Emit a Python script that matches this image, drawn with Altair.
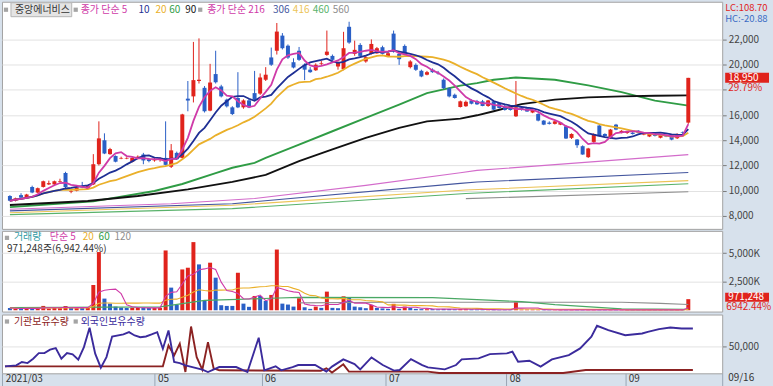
import altair as alt
import pandas as pd

# ---------------- data ----------------
opens = [9580, 9200, 9650, 9400, 10300, 9850, 10300, 10500, 10500, 10700,
         11400, 9900, 10000, 10370, 10150, 10500, 12100, 14000, 12900, 12750,
         12550, 12550, 12300, 12550, 12870, 12500, 12400, 12500, 12600, 11900,
         13000, 12600, 17300, 17480, 18700, 18160, 16350, 19250, 18270, 17220,
         16610, 17350, 16610, 17160, 17740, 17700, 18800, 20570, 21100, 22300,
         21500, 20190, 21100, 19990, 19600, 19550, 20050, 20770, 20690, 19850,
         19650, 23000, 20850, 21560, 20250, 20850, 20900, 21380, 20690, 22460,
         20850, 21480, 19800, 19980, 19510, 19200, 19600, 19350, 18800, 18130,
         17610, 16640, 16700, 17160, 17100, 17090, 16720, 17090, 16950, 16700,
         16600, 15900, 16600, 16530, 16200, 16080, 15560, 15400, 15300, 15240,
         15110, 14190, 14060, 13530, 12660, 13870, 15170, 14500, 14190, 15240,
         14580, 14580, 14600, 14760, 14450, 14300, 14500, 14200, 14350, 14400,
         14160, 14650, 15400]
highs = [9650, 9450, 9800, 9750, 10400, 10250, 10800, 10800, 10800, 10950,
         11500, 10100, 10300, 10700, 10450, 12900, 15500, 14550, 13400, 12800,
         12700, 12650, 12650, 12800, 13000, 12600, 12600, 12650, 15500, 13700,
         13100, 16100, 18700, 21800, 22080, 18300, 20060, 21100, 18400, 17300,
         16700, 19400, 17250, 17300, 19500, 19300, 19800, 21350, 23300, 22500,
         21600, 20500, 21400, 20100, 19800, 20100, 20300, 22700, 20800, 20250,
         22600, 23400, 21900, 21700, 20700, 22000, 21400, 21500, 21000, 22700,
         20950, 21600, 20350, 20100, 19600, 19500, 19700, 19500, 18900, 18200,
         17700, 17150, 17150, 17250, 17200, 17200, 17200, 17150, 17000, 16900,
         16650, 18700, 16700, 16600, 16450, 16150, 15600, 15500, 15550, 15450,
         15200, 14550, 14100, 13600, 13400, 14550, 15200, 14550, 14900, 15300,
         14800, 14750, 14700, 14800, 14600, 14550, 14550, 14450, 14400, 14450,
         14550, 14700, 18950]
lows = [9150, 9150, 9400, 9350, 9800, 9800, 10250, 10450, 10450, 10650,
        10200, 9800, 9950, 10200, 10100, 10450, 12000, 12900, 12850, 12250,
        12500, 12500, 12250, 12500, 12100, 12250, 12300, 12300, 12000, 11800,
        12450, 12550, 16300, 17000, 18500, 16200, 16300, 18500, 17400, 16600,
        16000, 16550, 16500, 16550, 17150, 17600, 18700, 19900, 20800, 21200,
        20450, 19700, 20300, 18770, 19350, 19500, 19950, 20700, 20300, 19600,
        19550, 21650, 20700, 20600, 20150, 20800, 20850, 20800, 20600, 20950,
        19980, 20750, 19700, 19500, 19000, 19150, 19350, 19200, 18050, 17400,
        17300, 16600, 16650, 16850, 16800, 16700, 16650, 16400, 16500, 16350,
        16350, 15850, 16350, 16250, 16150, 15500, 15200, 15250, 15250, 15200,
        14100, 14100, 13400, 12850, 12600, 13800, 14300, 14300, 14100, 14800,
        14550, 14500, 14450, 14550, 14400, 14250, 14300, 14150, 14250, 14000,
        14100, 14500, 15300]
closes = [9200, 9400, 9450, 9700, 9850, 10200, 10750, 10600, 10750, 10750,
          10300, 9950, 10250, 10250, 10400, 12100, 14150, 12950, 13300, 12300,
          12600, 12600, 12600, 12700, 12400, 12350, 12450, 12550, 12050, 13200,
          12500, 16050, 17150, 18770, 18800, 16300, 18580, 18600, 17480, 16690,
          16080, 16610, 17160, 16610, 17220, 18980, 19200, 19990, 22620, 21300,
          20560, 19770, 20380, 19600, 19400, 19990, 20100, 21030, 20380, 20170,
          21300, 21750, 21170, 20690, 20590, 21640, 21300, 20850, 20900, 21030,
          20430, 20850, 20250, 19590, 19060, 19400, 19400, 19300, 18130, 17480,
          17350, 17090, 17050, 16900, 16850, 16720, 17160, 16430, 16560, 16400,
          16400, 16610, 16400, 16280, 16400, 15560, 15240, 15300, 15500, 15400,
          14140, 14500, 13610, 12870, 13350, 14500, 14320, 14320, 14850, 14850,
          14750, 14700, 14500, 14600, 14500, 14500, 14350, 14400, 14300, 14050,
          14500, 14600, 18950]

# volume in thousand shares, and whether the bar is red (1) or blue (0)
volumes_k = [200, 150, 120, 180, 200, 180, 380, 150, 200, 180,
             380, 200, 180, 220, 200, 2210, 5090, 1020, 580, 320,
             235, 200, 220, 220, 220, 200, 200, 220, 5230, 1980,
             470, 3570, 3720, 5960, 4010, 820, 4160, 2850, 440, 380,
             380, 3280, 580, 300, 1250, 1250, 820, 1340, 5310, 580,
             500, 320, 1050, 260, 120, 320, 210, 1630, 210, 180,
             1220, 1130, 320, 260, 180, 470, 210, 160, 120, 560,
             120, 320, 210, 120, 100, 90, 100, 80, 120, 110,
             90, 100, 90, 80, 70, 40, 40, 40, 40, 40,
             40, 760, 60, 60, 60, 50, 30, 30, 30, 30,
             30, 30, 30, 30, 30, 30, 30, 30, 30, 30,
             30, 30, 30, 30, 30, 30, 30, 30, 30, 30,
             30, 30, 971.248]
volume_up = [0, 1, 0, 1, 0, 1, 1, 1, 1, 1,
             1, 0, 1, 0, 1, 1, 1, 0, 0, 0,
             0, 0, 1, 1, 0, 0, 1, 1, 1, 0,
             0, 1, 1, 1, 0, 0, 1, 0, 0, 0,
             0, 1, 0, 0, 1, 0, 0, 1, 1, 0,
             0, 0, 1, 0, 0, 1, 0, 1, 0, 0,
             1, 0, 0, 0, 0, 1, 0, 0, 0, 1,
             0, 1, 0, 0, 0, 1, 0, 0, 0, 0,
             0, 1, 1, 0, 0, 0, 1, 0, 0, 0,
             0, 1, 1, 1, 1, 1, 0, 0, 1, 1,
             0, 1, 0, 0, 1, 1, 0, 0, 1, 0,
             1, 1, 0, 0, 1, 1, 0, 1, 0, 0,
             1, 0, 1]

# longer moving averages (need history before the window) read at sample days
ma60_days = [0, 15, 26, 31, 37, 40, 44, 46, 52, 58, 64, 70, 75, 81, 84, 87, 91, 98, 104, 110, 116, 122]
ma60_vals = [8700, 9150, 9975, 10530, 11400, 11820, 12210, 12600, 13660, 14715, 15770, 16830,
             17740, 18330, 18530, 18800, 18980, 18800, 18350, 17820, 17140, 16750]
ma90_days = [0, 14, 23, 32, 40, 46, 52, 58, 64, 70, 75, 81, 84, 87, 92, 98, 104, 110, 116, 122]
ma90_vals = [8870, 9185, 9580, 10110, 10700, 11250, 12345, 13270, 14190, 14980, 15500, 15720,
             15980, 16300, 16870, 17220, 17400, 17480, 17530, 17560]
ma216_days = [0, 29, 44, 64, 81, 84, 122]
ma216_vals = [8530, 8970, 9380, 10420, 11420, 11610, 12860]
ma306_days = [0, 40, 81, 84, 122]
ma306_vals = [8400, 8970, 10580, 10690, 11450]
ma416_days = [0, 40, 82, 122]
ma416_vals = [8250, 8845, 10050, 10800]
ma460_days = [0, 40, 82, 122]
ma460_vals = [8100, 8580, 9780, 10550]
ma560_days = [82, 122]
ma560_vals = [9370, 9920]

vol_ma60_days = [0, 27, 35, 41, 47, 52, 76, 88, 92, 98, 110, 122]
vol_ma60_vals = [230, 300, 870, 960, 1050, 1120, 1100, 845, 760, 500, 120, 80]
vol_ma120_days = [52, 68, 92, 110, 117, 122]
vol_ma120_vals = [650, 700, 700, 700, 600, 500]

foreign_days = [0, 2, 3, 4, 5, 6, 7, 8, 9, 10, 11, 12, 13, 14, 15, 16, 17, 18, 19, 21,
                22, 23, 24, 25, 26, 27, 28, 29, 30, 31, 32, 35, 36, 38, 41, 43, 45, 46, 48, 49,
                51, 52, 55, 57, 58, 60, 62, 63, 65, 67, 69, 70, 72, 74, 75, 78, 80, 81, 84, 86,
                89, 90, 91, 93, 95, 97, 100, 102, 104, 105, 107, 110, 113, 114, 116, 118, 120, 122]
foreign_vals = [12800, 14600, 20700, 18800, 26900, 37100, 37100, 43400, 46300, 26900,
                37100, 34800, 25100, 48100, 83600, 36100, 10400, 29800, 67700, 71400,
                75600, 69500, 66400, 67700, 71400, 75600, 45200, 78700, 20700, 18800,
                14600, 6800, 2400, 11500, 11500, 2400, 65300, 5500, 12800, 5500,
                11500, 15200, 15200, 3100, 12300, 25600, 17000, 7300, 29300, 15200,
                4900, 6000, 26200, 15200, 11000, 7300, 15200, 25600, 27500, 35300,
                36600, 39700, 21400, 23200, 12300, 25600, 33500, 45800, 67200, 87300,
                79200, 70100, 73200, 76300, 81100, 84200, 82400, 82400]
inst_days = [0, 28, 29, 30, 31, 32, 33, 34, 35, 36, 37, 38, 56, 57, 58, 60, 61, 63, 75, 77, 99, 103, 122]
inst_vals = [12800, 12800, 51200, 32900, 54400, 2400, 86000, 29800, 6800, 57300,
             9200, 5500, 4600, 9200, 1300, 16500, 3100, 3100, 3100, 500, 500, 6000, 6000]

month_ticks = [-0.5, 26.5, 45.5, 67.5, 88.9, 110, 127.2]
month_labels = ["2021/03", "05", "06", "07", "08", "09", ""]
price_ticks = [8000, 10000, 12000, 14000, 16000, 18000, 20000, 22000]
price_hidden_label = 18000   # covered by the last-price tag in the reference
volume_ticks = [2500, 5000]
holding_ticks = [50000]

stock_name = "중앙에너비스"
last_date = "09/16"
price_change = "29.79%"
volume_change = "6942.44%"
volume_text = "971,248주(6,942.44%)"
lc_text = "LC:108.70"
hc_text = "HC:-20.88"

# ---------------- styles ----------------
FONT = "Noto Sans CJK KR"
RED = "#e0231c"
BLUE = "#2a5fc6"
C_MA5 = "#cf3aa8"
C_MA10 = "#1e2f94"
C_MA20 = "#eab02a"
C_MA60 = "#2f9c45"
C_MA90 = "#111111"
C_216 = "#d36ccb"
C_306 = "#44569e"
C_416 = "#ecc457"
C_460 = "#58b26a"
C_560 = "#8e8e8e"
C_VMA60 = "#4aa864"
C_VMA120 = "#8f8f8f"
C_INST = "#8b2222"
C_FOR = "#3b2b9c"
C_VOLT = "#2f9aa4"
LEG = 10

W = 723
H_P, H_V, H_H = 228, 81, 59

xs = alt.Scale(domain=[-0.53, 127.2], nice=False, zero=False)
X = alt.X("i:Q", scale=xs, axis=None)

expr_x = " : ".join(f"datum.value == {v} ? '{l}'" for v, l in zip(month_ticks, month_labels)) + " : ''"
x_bottom = alt.Axis(values=month_ticks, labelExpr=expr_x, tickSize=18, tickColor="#9aa6b4",
                    labelAlign="left", labelBaseline="middle", labelPadding=-13, labelOffset=3,
                    labelColor="#333333", labelFontSize=10, labelFont=FONT, domain=False,
                    grid=False, minExtent=18, maxExtent=18, title=None, labelFlush=False,
                    labelOverlap=False, labelBound=False)
XB = alt.X("i:Q", scale=xs, axis=x_bottom)

def right_axis(values, expr):
    return alt.Axis(orient="right", values=values, title=None, grid=True, gridColor="#e2e2e2",
                    tickSize=4, tickColor="#7a7a7a", labelPadding=2, minExtent=50, maxExtent=50,
                    domain=False, labelColor="#444444", labelFontSize=10, labelFont=FONT,
                    labelExpr=expr)

p_scale = alt.Scale(domain=[6973, 24985], nice=False, zero=False)
p_axis = right_axis(price_ticks,
                    f"datum.value == {price_hidden_label} ? '' : format(datum.value, ',')")
def YP(f):
    return alt.Y(f, scale=p_scale, axis=p_axis)

v_scale = alt.Scale(domain=[-113, 6943], nice=False, zero=False)
v_axis = right_axis(volume_ticks, "format(datum.value, ',') + 'K'")
def YV(f):
    return alt.Y(f, scale=v_scale, axis=v_axis)

h_scale = alt.Scale(domain=[0, 108000], nice=False, zero=False)
h_axis = right_axis(holding_ticks, "format(datum.value, ',')")
def YH(f):
    return alt.Y(f, scale=h_scale, axis=h_axis)

_one = pd.DataFrame({"k": [0]})
def label(text, x, y, color="#333333", size=LEG, align="left"):
    return alt.Chart(_one).mark_text(text=text, align=align, baseline="middle", fontSize=size,
                                     color=color, font=FONT).encode(x=alt.value(x), y=alt.value(y))

def icon(x, y):
    return alt.Chart(_one).mark_point(shape="square", size=18, filled=True, color="#a4a4a4",
                                      opacity=1).encode(x=alt.value(x), y=alt.value(y))

def line(days, vals, color, width, yfn, xenc=X):
    df = pd.DataFrame({"i": days, "v": vals})
    return alt.Chart(df).mark_line(strokeWidth=width, color=color).encode(x=xenc, y=yfn("v:Q"))

n = len(closes)
candles = pd.DataFrame({"i": list(range(n)), "open": opens, "high": highs,
                        "low": lows, "close": closes})
vol_df = pd.DataFrame({"i": list(range(n)), "vol": volumes_k, "up": volume_up})

up_color = alt.condition("datum.close >= datum.open", alt.value(RED), alt.value(BLUE))
srt = [alt.SortField("i", order="ascending")]

def rolling(col, k, color, width, yfn, data):
    name = f"{col}_ma{k}"
    return alt.Chart(data).transform_window(
        **{name: f"mean({col})"}, frame=[-(k - 1), 0], sort=srt
    ).mark_line(strokeWidth=width, color=color).encode(x=X, y=yfn(f"{name}:Q"))

# ---------------- price panel ----------------
wicks = alt.Chart(candles).mark_rule(strokeWidth=1).encode(x=X, y=YP("low:Q"), y2="high:Q", color=up_color)
bodies = alt.Chart(candles).mark_bar(size=4).encode(x=X, y=YP("open:Q"), y2="close:Q", color=up_color)

last_df = pd.DataFrame({"v": [closes[-1]]})
tag_box = alt.Chart(last_df).mark_tick(orient="horizontal", size=44, thickness=10, color=RED,
                                       opacity=1).encode(x=alt.value(748), y=YP("v:Q"))
tag_txt = alt.Chart(last_df).mark_text(align="left", baseline="middle", color="white", fontSize=10,
                                       font=FONT).encode(x=alt.value(729), y=YP("v:Q"),
                                                         text=alt.Text("v:Q", format=","))
tag_pct = alt.Chart(last_df).mark_text(align="left", baseline="middle", color=RED, fontSize=10,
                                       font=FONT, dy=10, text=price_change).encode(
    x=alt.value(729), y=YP("v:Q"))

name_box = alt.Chart(_one).mark_rect(fill="#e4e4e4", stroke="#b5b5b5", strokeWidth=1).encode(
    x=alt.value(9), x2=alt.value(70), y=alt.value(1), y2=alt.value(15))

price_panel = alt.layer(
    line(ma560_days, ma560_vals, C_560, 1.1, YP),
    line(ma460_days, ma460_vals, C_460, 1.1, YP),
    line(ma416_days, ma416_vals, C_416, 1.1, YP),
    line(ma306_days, ma306_vals, C_306, 1.1, YP),
    line(ma216_days, ma216_vals, C_216, 1.1, YP),
    line(ma60_days, ma60_vals, C_MA60, 1.9, YP),
    line(ma90_days, ma90_vals, C_MA90, 1.9, YP),
    wicks, bodies,
    rolling("close", 20, C_MA20, 1.8, YP, candles),
    rolling("close", 10, C_MA10, 1.8, YP, candles),
    rolling("close", 5, C_MA5, 1.8, YP, candles),
    name_box, icon(4, 8), label(stock_name, 13, 8, "#333333"),
    icon(74, 8), label("종가 단순 5", 79, 8, C_MA5), label("10", 137, 8, C_MA10),
    label("20", 154, 8, C_MA20), label("60", 168, 8, C_MA60), label("90", 184, 8, C_MA90),
    icon(199, 8), label("종가 단순 216", 206, 8, C_MA5), label("306", 272, 8, C_306),
    label("416", 292, 8, C_416), label("460", 312, 8, C_460), label("560", 332, 8, C_560),
    label(lc_text, 726, 6, RED, 9.5), label(hc_text, 726, 17, "#3a6bc4", 9.5),
    tag_box, tag_txt, tag_pct,
).properties(width=W, height=H_P)

# ---------------- volume panel ----------------
vbars = alt.Chart(vol_df).mark_bar(size=4).encode(
    x=X, y=YV("vol:Q"), y2=alt.datum(0),
    color=alt.condition("datum.up == 1", alt.value(RED), alt.value(BLUE)))

vlast = pd.DataFrame({"v": [volumes_k[-1]]})
vtag_box = alt.Chart(vlast).mark_tick(orient="horizontal", size=44, thickness=9, color=RED,
                                      opacity=1, yOffset=-2).encode(x=alt.value(748), y=YV("v:Q"))
vtag_txt = alt.Chart(vlast).transform_calculate(t="format(datum.v * 1000, ',.0f')").mark_text(
    align="left", baseline="middle", color="white", fontSize=10, font=FONT, dy=-2).encode(
    x=alt.value(729), y=YV("v:Q"), text="t:N")
vtag_pct = alt.Chart(vlast).mark_text(align="left", baseline="middle", color=RED, fontSize=10,
                                      font=FONT, dy=8, text=volume_change).encode(
    x=alt.value(727), y=YV("v:Q"))

vol_panel = alt.layer(
    vbars,
    line(vol_ma120_days, vol_ma120_vals, C_VMA120, 1.1, YV),
    line(vol_ma60_days, vol_ma60_vals, C_VMA60, 1.2, YV),
    rolling("vol", 20, C_MA20, 1.1, YV, vol_df),
    rolling("vol", 5, C_MA5, 1.1, YV, vol_df),
    icon(5, 7), label("거래량", 12, 6.5, C_VOLT), label("단순 5", 48, 6.5, C_MA5),
    label("20", 81, 6.5, C_MA20), label("60", 97, 6.5, C_MA60), label("120", 113, 6.5, C_560),
    label(volume_text, 5, 18, "#333333"),
    vtag_box, vtag_txt, vtag_pct,
).properties(width=W, height=H_V)

# ---------------- holdings panel ----------------
hold_panel = alt.layer(
    line(inst_days, inst_vals, C_INST, 1.9, YH, XB),
    line(foreign_days, foreign_vals, C_FOR, 1.9, YH, XB),
    icon(5, 7), label("기관보유수량", 12, 7, C_INST), icon(74, 7), label("외국인보유수량", 79, 7, C_FOR),
    label(last_date, 729, H_H + 5, "#333333"),
).properties(width=W, height=H_H)

chart = alt.vconcat(price_panel, vol_panel, hold_panel, spacing=0).properties(
    padding=0, background="#d7e1ec"
).configure_view(fill="white", stroke="#a3a3a3", strokeWidth=1).configure_text(font=FONT)

chart.save("out.html", embed_options={"renderer": "svg", "actions": False})
